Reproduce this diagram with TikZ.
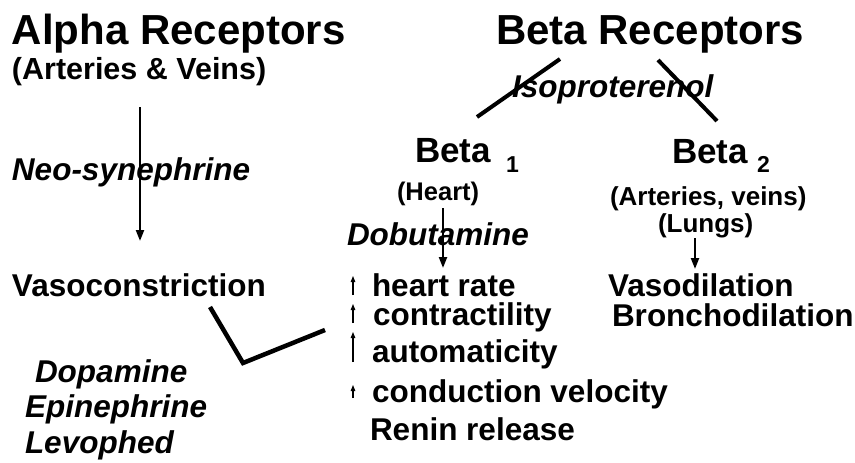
\documentclass[tikz,border=0pt]{standalone}
\usepackage{fontspec}
\setmainfont{Liberation Sans}
\usetikzlibrary{arrows.meta}
\begin{document}
\begin{tikzpicture}[x=1pt,y=-1pt,
  lbl/.style={anchor=base west,inner sep=0pt,outer sep=0pt,font=\bfseries\fontsize{31.5}{36}\selectfont},
  itl/.style={lbl,font=\bfseries\itshape\fontsize{31.5}{36}\selectfont},
  head/.style={lbl,font=\bfseries\fontsize{42}{48}\selectfont},
  betah/.style={lbl,font=\bfseries\fontsize{35}{40}\selectfont},
  small/.style={lbl,font=\bfseries\fontsize{26}{30}\selectfont},
  bigarrow/.style={line width=2.2pt,-{Triangle[width=8pt,length=11pt]}},
  uparrow/.style={line width=1.1pt,-{Triangle[width=4.5pt,length=6pt]}},
  thick line/.style={line width=4pt},
]
\useasboundingbox (0,0) rectangle (855,463);
\fill[white] (0,0) rectangle (855,463);

% Alpha side
\node[head] (alpha) at (12,45) {Alpha Receptors};
\node[lbl,font=\bfseries\fontsize{30.5}{36}\selectfont] (av) at (12,79) {(Arteries \& Veins)};
\node[itl] (neo) at (12,180) {Neo-synephrine};
\node[lbl] (vasoc) at (12,296) {Vasoconstriction};
\node[itl] (dopa) at (35,382) {Dopamine};
\node[itl] (epi) at (25,417) {Epinephrine};
\node[itl] (levo) at (25,453) {Levophed};
\coordinate (a1) at (140,107);
\coordinate (a2) at (140,241);
\draw[bigarrow] (a1) -- (a2);

% Beta side
\node[head] (beta) at (496,45) {Beta Receptors};
\node[itl] (iso) at (512,97) {Isoproterenol};
\node[betah] (b1) at (415,162) {Beta};
\node[lbl,font=\bfseries\fontsize{23}{28}\selectfont] (b1s) at (506,172) {1};
\node[betah] (b2) at (672,163) {Beta};
\node[lbl,font=\bfseries\fontsize{23}{28}\selectfont] (b2s) at (757,172) {2};
\coordinate (l1a) at (477,117);
\coordinate (l1b) at (560,59);
\coordinate (l2a) at (658,60);
\coordinate (l2b) at (717,121);
\draw[thick line] (l1a) -- (l1b);
\draw[thick line] (l2a) -- (l2b);

\node[small,font=\bfseries\fontsize{25.5}{30}\selectfont] (heart) at (397,200) {(Heart)};
\node[small] (artv) at (610,205) {(Arteries, veins)};
\node[small] (lungs) at (658,232) {(Lungs)};
\node[itl] (dobu) at (347,245) {Dobutamine};

\coordinate (h1) at (443,208);
\coordinate (h2) at (443,268);
\draw[bigarrow] (h1) -- (h2);
\coordinate (g1) at (695,238);
\coordinate (g2) at (695,269);
\draw[bigarrow] (g1) -- (g2);

\node[lbl] (vasod) at (608,296) {Vasodilation};
\node[lbl] (bronch) at (612,326) {Bronchodilation};

\node[lbl] (hr) at (372,296) {heart rate};
\node[lbl] (con) at (373,325) {contractility};
\node[lbl] (aut) at (372,362) {automaticity};
\node[lbl] (cv) at (372,402) {conduction velocity};
\node[lbl] (ren) at (370,440) {Renin release};

\coordinate (u1a) at (353,295); \coordinate (u1b) at (353,276);
\coordinate (u2a) at (353,323); \coordinate (u2b) at (353,304);
\coordinate (u3a) at (353,362); \coordinate (u3b) at (353,332);
\coordinate (u4a) at (353,398); \coordinate (u4b) at (353,385);
\draw[uparrow] (u1a) -- (u1b);
\draw[uparrow] (u2a) -- (u2b);
\draw[uparrow] (u3a) -- (u3b);
\draw[uparrow] (u4a) -- (u4b);

% V connector between Vasoconstriction and list
\coordinate (v1) at (210,307);
\coordinate (v2) at (243,363);
\coordinate (v3) at (325,330);
\draw[line width=4.5pt] (v1) -- (v2) -- (v3);
\end{tikzpicture}
\end{document}
